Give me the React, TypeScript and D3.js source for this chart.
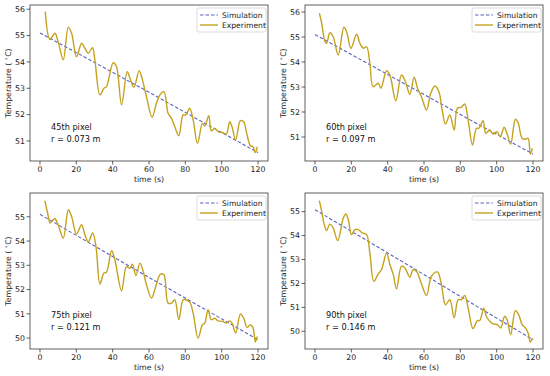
import React from "react";
import * as d3 from "d3";

// ---------- data ----------
const xTicks = [0, 20, 40, 60, 80, 100, 120];
const yTicks1 = [51, 52, 53, 54, 55, 56];
const yTicks2 = [51, 52, 53, 54, 55, 56];
const yTicks3 = [50, 51, 52, 53, 54, 55];
const yTicks4 = [50, 51, 52, 53, 54, 55];

const labels = ["45th pixel", "60th pixel", "75th pixel", "90th pixel"];
const radii = ["r = 0.073 m", "r = 0.097 m", "r = 0.121 m", "r = 0.146 m"];

const simTime = [0, 30, 60, 90, 120];
const sim1 = [55.1, 53.98, 52.85, 51.7, 50.56];
const sim2 = [55.1, 53.9, 52.7, 51.5, 50.32];
const sim3 = [55.1, 53.8, 52.5, 51.22, 49.93];
const sim4 = [55.08, 53.73, 52.37, 51.0, 49.65];

const time1 = [2.9, 5.5, 8.2, 10, 12.8, 15.6, 17.4, 20.1, 22.9, 24.7, 26.6, 28.9, 30.2, 33, 35.2, 36.6, 40.3, 42.1, 44.9, 48, 49.5, 51.7, 54.6, 56.4, 58.6, 61.7, 64.1, 66, 68.2, 70.5, 72.4, 74.2, 76.4, 78.8, 80.3, 82.4, 84.3, 86.7, 89.4, 90.7, 92.9, 94.3, 96.2, 98, 100.4, 102.6, 104.4, 105.7, 107.7, 110.3, 112.1, 113.6, 115.8, 117.3, 118.5, 119.6];
const exp1 = [55.91, 54.85, 55.09, 54.77, 54.08, 55.32, 55.09, 54.2, 54.71, 54.52, 54.33, 54.54, 54.08, 52.75, 53.0, 53.06, 53.97, 53.82, 52.37, 53.63, 53.38, 53.04, 53.67, 53.32, 52.68, 51.9, 52.43, 52.75, 52.87, 52.05, 51.86, 51.54, 51.2, 51.99, 51.99, 52.24, 51.8, 50.91, 51.67, 51.57, 51.96, 51.38, 51.48, 51.35, 51.32, 51.27, 51.73, 51.54, 51.04, 51.77, 51.73, 51.35, 50.82, 50.78, 50.56, 50.78];

const time2 = [2.4, 3.7, 5.5, 6.4, 8.2, 10, 12.8, 15.9, 17.4, 19.8, 22.9, 24.7, 26.6, 28.4, 30.2, 32, 34.8, 36.3, 39.4, 41.2, 44.5, 47.6, 49.8, 52.2, 54.6, 56.4, 58.6, 61.4, 63.7, 66, 68.2, 70, 71.8, 74.2, 76.6, 78.4, 80.6, 82.4, 84.3, 86.7, 88.9, 90.3, 92.5, 94, 96.2, 98, 100.2, 102, 104.1, 105.4, 107.7, 110.3, 111.8, 114, 115.8, 117.3, 118.5, 119.6];
const exp2 = [55.95, 55.55, 54.81, 54.75, 55.17, 55.01, 54.28, 55.39, 55.21, 54.55, 55.11, 54.75, 54.55, 54.61, 53.95, 53.01, 53.15, 52.95, 53.65, 53.48, 52.45, 53.48, 53.21, 52.71, 53.39, 52.95, 52.61, 52.08, 52.75, 53.04, 52.81, 52.08, 51.52, 51.88, 51.28, 52.15, 52.19, 52.32, 51.68, 50.68, 51.35, 51.35, 51.65, 51.15, 51.28, 51.12, 51.21, 51.01, 51.39, 51.21, 50.72, 51.71, 51.57, 50.95, 50.91, 50.95, 50.32, 50.55];

const time3 = [2.7, 4.6, 5.5, 6.4, 8.2, 10, 12.8, 15.6, 17.4, 20.1, 22.9, 24.7, 26.6, 29, 30.8, 33, 35.2, 36.6, 39.4, 41.2, 44.9, 47.6, 49.5, 50.9, 52.8, 55, 56.8, 58.6, 61.4, 63.7, 66.3, 68.2, 70.5, 72.4, 74.2, 76.4, 78.8, 80.3, 82.4, 84.3, 87, 89.4, 90.7, 92.5, 94.3, 96.2, 98, 100.4, 102.6, 104.4, 105.7, 107.7, 110.3, 112.1, 114, 115.8, 117.3, 118.5, 119.6];
const exp3 = [55.66, 55.01, 54.74, 54.81, 54.92, 54.67, 54.12, 55.29, 55.01, 54.29, 54.67, 54.26, 53.96, 54.33, 53.78, 52.23, 52.68, 52.71, 53.6, 53.23, 51.95, 52.95, 52.88, 53.05, 52.58, 53.09, 52.75, 52.2, 51.65, 52.13, 52.64, 52.61, 51.44, 51.44, 51.58, 50.76, 51.58, 51.58, 51.48, 51.03, 50.0, 50.55, 50.62, 51.17, 50.76, 50.82, 50.71, 50.69, 50.62, 50.71, 50.62, 50.21, 50.99, 50.82, 50.44, 50.55, 50.41, 49.84, 50.07];

const time4 = [2.4, 3.7, 5.1, 6.4, 8.2, 10, 12.5, 15.6, 17, 18.3, 20.1, 22, 23.8, 26, 28.4, 30.2, 32.4, 34.8, 36.6, 39.4, 41.2, 43.1, 44.9, 47.6, 49.5, 52.2, 54, 55.9, 58.6, 61.4, 64.1, 67.4, 69.6, 71.8, 74.2, 76.6, 78.8, 80.6, 82.4, 84.3, 87, 89.4, 90.7, 92.9, 94.3, 96.2, 98, 100.4, 102.2, 104.4, 105.7, 107.7, 110.3, 112.1, 114, 115.8, 117.3, 118.5, 119.6];
const exp4 = [55.46, 55.01, 54.46, 54.21, 54.48, 54.32, 53.79, 54.74, 54.9, 54.67, 54.04, 54.25, 54.25, 54.11, 54.04, 53.27, 52.09, 52.4, 52.58, 53.27, 52.79, 52.37, 51.77, 52.72, 52.65, 52.26, 52.58, 52.51, 51.98, 51.5, 52.3, 52.48, 51.95, 51.11, 51.32, 50.56, 51.32, 51.32, 51.5, 50.97, 50.11, 50.45, 50.45, 50.97, 50.63, 50.42, 50.31, 50.28, 50.14, 50.63, 50.49, 49.86, 50.86, 50.7, 50.28, 50.14, 49.93, 49.55, 49.72];

// ---------- layout ----------
const FONT = "DejaVu Sans, sans-serif";
const EXP_COLOR = "#c4a21f";
const SIM_COLOR = "#5862c2";
const AX_COLOR = "#3a3a3a";

interface PanelProps {
  ox: number;
  oy: number;
  time: number[];
  exp: number[];
  sim: number[];
  yTicks: number[];
  yDomain: [number, number];
  label: string;
  radius: string;
}

function Panel({ ox, oy, time, exp, sim, yTicks, yDomain, label, radius }: PanelProps) {
  const left = 30, right = 268, top = 5, bottom = 161;
  const x = d3.scaleLinear().domain([-5.5, 125.5]).range([left, right]);
  const y = d3.scaleLinear().domain(yDomain).range([bottom, top]);
  const line = d3
    .line<[number, number]>()
    .x((d) => x(d[0]))
    .y((d) => y(d[1]))
    .curve(d3.curveCatmullRom.alpha(0.5));
  const expPath = line(time.map((t, i) => [t, exp[i]] as [number, number])) || "";
  const simLine = d3
    .line<[number, number]>()
    .x((d) => x(d[0]))
    .y((d) => y(d[1]));
  const simPath = simLine(simTime.map((t, i) => [t, sim[i]] as [number, number])) || "";
  const clipId = `clip-${ox}-${oy}`;
  return (
    <g transform={`translate(${ox},${oy})`}>
      <defs>
        <clipPath id={clipId}>
          <rect x={left} y={top} width={right - left} height={bottom - top} />
        </clipPath>
      </defs>
      <g clipPath={`url(#${clipId})`}>
        <path d={simPath} fill="none" stroke={SIM_COLOR} strokeWidth={1.1} strokeDasharray="3.5,2" />
        <path d={expPath} fill="none" stroke={EXP_COLOR} strokeWidth={1.4} />
      </g>
      <rect x={left} y={top} width={right - left} height={bottom - top} fill="none" stroke={AX_COLOR} strokeWidth={0.8} />
      {xTicks.map((t) => (
        <g key={`x${t}`}>
          <line x1={x(t)} x2={x(t)} y1={bottom} y2={bottom + 3.5} stroke={AX_COLOR} strokeWidth={0.8} />
          <text x={x(t)} y={bottom + 11} textAnchor="middle" fontSize={7.8} fontFamily={FONT} fill="#222">
            {t}
          </text>
        </g>
      ))}
      {yTicks.map((v) => (
        <g key={`y${v}`}>
          <line x1={left - 3.5} x2={left} y1={y(v)} y2={y(v)} stroke={AX_COLOR} strokeWidth={0.8} />
          <text x={left - 5} y={y(v) + 2.8} textAnchor="end" fontSize={7.8} fontFamily={FONT} fill="#222">
            {v}
          </text>
        </g>
      ))}
      <text x={(left + right) / 2} y={bottom + 21} textAnchor="middle" fontSize={7.8} fontFamily={FONT} fill="#222">
        time (s)
      </text>
      <text
        transform={`translate(11,${(top + bottom) / 2}) rotate(-90)`}
        textAnchor="middle"
        fontSize={7.8}
        fontFamily={FONT}
        fill="#222"
      >
        Temperature ( <tspan fontSize={5.5} dy={-3}>∘</tspan>
        <tspan dy={3}>C)</tspan>
      </text>
      <text x={51} y={130} fontSize={8.2} fontFamily={FONT} fill="#111">
        {label}
      </text>
      <text x={51} y={142} fontSize={8.2} fontFamily={FONT} fill="#111">
        {radius}
      </text>
      {/* legend */}
      <rect x={197} y={8} width={69} height={24} rx={2} fill="white" stroke="#cccccc" strokeWidth={0.7} />
      <line x1={200} x2={218} y1={15} y2={15} stroke={SIM_COLOR} strokeWidth={1.1} strokeDasharray="3.5,2" />
      <text x={222} y={17.8} fontSize={7.6} fontFamily={FONT} fill="#222">
        Simulation
      </text>
      <line x1={200} x2={218} y1={25} y2={25} stroke={EXP_COLOR} strokeWidth={1.4} />
      <text x={222} y={27.8} fontSize={7.6} fontFamily={FONT} fill="#222">
        Experiment
      </text>
    </g>
  );
}

export default function App() {
  return (
    <svg width={550} height={376} style={{ position: "absolute", left: 0, top: 0, background: "white" }}>
      <rect width={550} height={376} fill="white" />
      <Panel ox={0} oy={0} time={time1} exp={exp1} sim={sim1} yTicks={yTicks1} yDomain={[50.24, 56.16]} label={labels[0]} radius={radii[0]} />
      <Panel ox={275} oy={0} time={time2} exp={exp2} sim={sim2} yTicks={yTicks2} yDomain={[50.04, 56.28]} label={labels[1]} radius={radii[1]} />
      <Panel ox={0} oy={188} time={time3} exp={exp3} sim={sim3} yTicks={yTicks3} yDomain={[49.55, 55.98]} label={labels[2]} radius={radii[2]} />
      <Panel ox={275} oy={188} time={time4} exp={exp4} sim={sim4} yTicks={yTicks4} yDomain={[49.26, 55.78]} label={labels[3]} radius={radii[3]} />
    </svg>
  );
}
